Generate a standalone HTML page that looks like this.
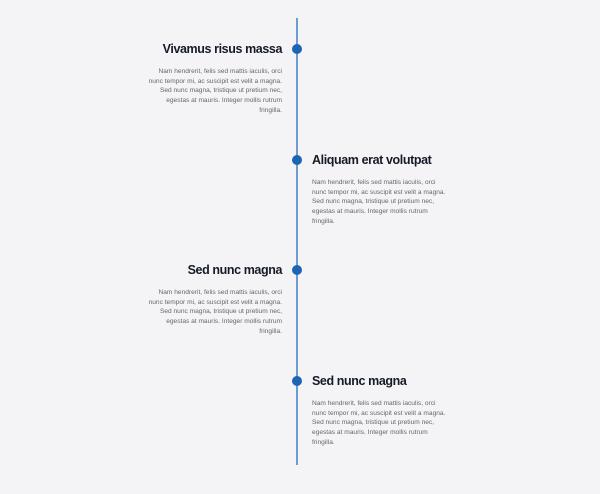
<!DOCTYPE html>
<html><head><meta charset="utf-8"><style>
body{margin:0;width:600px;height:494px;background:#f4f4f7;font-family:"Liberation Sans",sans-serif;position:relative;overflow:hidden}
.line{position:absolute;left:296px;top:18px;width:2px;height:447px;background:#6f9bd3}
.dot{position:absolute;left:292px;width:10px;height:10px;border-radius:50%;background:#1f63b3}
.item{position:absolute;width:160px}
.item.l{left:122px;text-align:right}
.item.r{left:312px;text-align:left}
h3{margin:0;font-size:12.5px;font-weight:bold;color:#151a26;letter-spacing:-0.4px;line-height:14px;white-space:nowrap}
p{margin:11px 0 0;font-size:6.6px;line-height:9.7px;color:#666;white-space:nowrap}
</style></head><body>
<div class="line"></div>
<div class="dot" style="top:44px"></div>
<div class="dot" style="top:155px"></div>
<div class="dot" style="top:265px"></div>
<div class="dot" style="top:376px"></div>
<div class="item l" style="top:42px"><h3>Vivamus risus massa</h3><p>Nam hendrerit, felis sed mattis iaculis, orci<br>nunc tempor mi, ac suscipit est velit a magna.<br>Sed nunc magna, tristique ut pretium nec,<br>egestas at mauris. Integer mollis rutrum<br>fringilla.</p></div>
<div class="item r" style="top:153px"><h3>Aliquam erat volutpat</h3><p>Nam hendrerit, felis sed mattis iaculis, orci<br>nunc tempor mi, ac suscipit est velit a magna.<br>Sed nunc magna, tristique ut pretium nec,<br>egestas at mauris. Integer mollis rutrum<br>fringilla.</p></div>
<div class="item l" style="top:263px"><h3>Sed nunc magna</h3><p>Nam hendrerit, felis sed mattis iaculis, orci<br>nunc tempor mi, ac suscipit est velit a magna.<br>Sed nunc magna, tristique ut pretium nec,<br>egestas at mauris. Integer mollis rutrum<br>fringilla.</p></div>
<div class="item r" style="top:374px"><h3>Sed nunc magna</h3><p>Nam hendrerit, felis sed mattis iaculis, orci<br>nunc tempor mi, ac suscipit est velit a magna.<br>Sed nunc magna, tristique ut pretium nec,<br>egestas at mauris. Integer mollis rutrum<br>fringilla.</p></div>
</body></html>
